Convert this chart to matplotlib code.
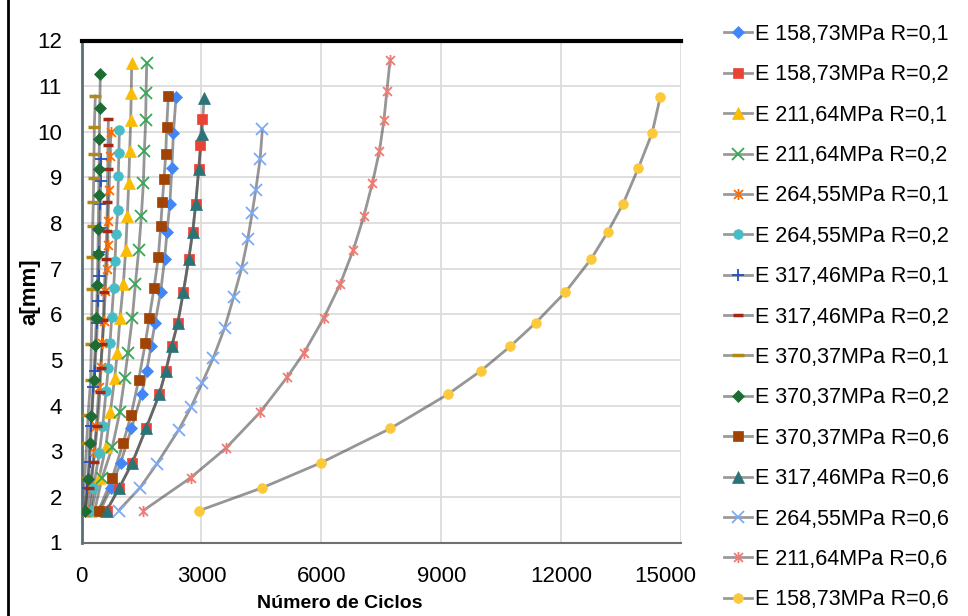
import matplotlib
matplotlib.use("Agg")
import matplotlib.pyplot as plt
import matplotlib.transforms as mtransforms
from matplotlib.lines import Line2D
from matplotlib.path import Path

plt.rcParams["font.family"] = ["Liberation Sans", "DejaVu Sans"]

# crescimento da trinca: ciclos x tamanho a[mm]
labels = [
    "E 158,73MPa R=0,1", "E 158,73MPa R=0,2", "E 211,64MPa R=0,1",
    "E 211,64MPa R=0,2", "E 264,55MPa R=0,1", "E 264,55MPa R=0,2",
    "E 317,46MPa R=0,1", "E 317,46MPa R=0,2", "E 370,37MPa R=0,1",
    "E 370,37MPa R=0,2", "E 370,37MPa R=0,6", "E 317,46MPa R=0,6",
    "E 264,55MPa R=0,6", "E 211,64MPa R=0,6", "E 158,73MPa R=0,6",
]

n1 = [470, 740, 980, 1250, 1505, 1630, 1740, 1840, 1980, 2080, 2140, 2210, 2260, 2300, 2365]
a1 = [1.7, 2.2, 2.75, 3.5, 4.25, 4.76, 5.3, 5.81, 6.49, 7.21, 7.81, 8.42, 9.2, 9.98, 10.76]
n2 = [630, 946, 1272, 1615, 1948, 2108, 2258, 2408, 2549, 2683, 2783, 2858, 2933, 2974, 3008]
a2 = [1.7, 2.2, 2.75, 3.5, 4.25, 4.76, 5.3, 5.81, 6.49, 7.21, 7.81, 8.42, 9.18, 9.72, 10.27]
n3 = [250, 438, 606, 721, 831, 896, 964, 1046, 1106, 1147, 1181, 1206, 1231, 1245, 1256]
a3 = [1.7, 2.41, 3.09, 3.85, 4.61, 5.16, 5.92, 6.66, 7.41, 8.16, 8.87, 9.58, 10.26, 10.86, 11.5]
n4 = [330, 513, 771, 956, 1081, 1164, 1272, 1348, 1432, 1498, 1548, 1573, 1606, 1615, 1632]
a4 = [1.7, 2.41, 3.09, 3.85, 4.61, 5.16, 5.92, 6.66, 7.41, 8.16, 8.87, 9.58, 10.26, 10.86, 11.5]
n5 = [170, 250, 313, 371, 438, 481, 521, 560, 595, 631, 656, 663, 689, 722, 730]
a5 = [1.7, 2.2, 2.98, 3.55, 4.41, 4.85, 5.37, 5.85, 6.5, 7.0, 7.52, 8.05, 8.72, 9.46, 9.99]
n6 = [230, 296, 446, 531, 614, 671, 714, 756, 806, 839, 864, 906, 921, 935, 947]
a6 = [1.7, 2.19, 2.96, 3.55, 4.31, 4.83, 5.38, 5.95, 6.58, 7.16, 7.75, 8.28, 9.02, 9.53, 10.04]
n7 = [80, 145, 205, 245, 300, 330, 370, 400, 413, 430, 450, 462, 472, 478, 482]
a7 = [1.7, 2.19, 2.76, 3.55, 4.41, 4.75, 5.3, 5.82, 6.3, 6.83, 7.37, 7.9, 8.41, 8.92, 9.41]
n8 = [95, 188, 305, 396, 464, 481, 521, 546, 563, 614, 631, 646, 656, 664, 672]
a8 = [1.7, 2.19, 2.77, 3.55, 4.3, 4.82, 5.34, 5.87, 6.49, 7.21, 7.83, 8.46, 9.18, 9.72, 10.28]
n9 = [40, 80, 130, 165, 230, 246, 255, 263, 271, 280, 296, 305, 313, 321, 346]
a9 = [1.7, 2.42, 3.18, 3.8, 4.57, 5.35, 5.91, 6.56, 7.26, 7.94, 8.47, 8.98, 9.51, 10.11, 10.79]
n10 = [96, 163, 205, 245, 305, 346, 371, 396, 410, 422, 430, 440, 447, 455, 472]
a10 = [1.7, 2.39, 3.18, 3.77, 4.55, 5.33, 5.92, 6.64, 7.32, 7.87, 8.61, 9.18, 9.85, 10.51, 11.26]
n11 = [430, 771, 1046, 1239, 1432, 1597, 1698, 1815, 1923, 1982, 2023, 2065, 2108, 2132, 2173]
a11 = [1.7, 2.42, 3.19, 3.79, 4.57, 5.37, 5.93, 6.58, 7.26, 7.94, 8.47, 8.97, 9.52, 10.11, 10.79]
n12 = [630, 946, 1272, 1615, 1948, 2108, 2258, 2408, 2549, 2683, 2783, 2858, 2933, 3016, 3066]
a12 = [1.7, 2.2, 2.75, 3.5, 4.25, 4.76, 5.3, 5.81, 6.49, 7.21, 7.81, 8.42, 9.18, 9.96, 10.75]
n13 = [930, 1464, 1882, 2433, 2749, 3016, 3300, 3580, 3810, 4010, 4160, 4268, 4360, 4468, 4526]
a13 = [1.7, 2.2, 2.72, 3.47, 3.98, 4.49, 5.05, 5.7, 6.39, 7.02, 7.65, 8.21, 8.72, 9.4, 10.05]
n14 = [1547, 2733, 3617, 4475, 5152, 5562, 6063, 6471, 6804, 7064, 7280, 7455, 7568, 7640, 7722]
a14 = [1.7, 2.42, 3.07, 3.86, 4.63, 5.15, 5.92, 6.66, 7.42, 8.15, 8.88, 9.58, 10.26, 10.89, 11.58]
n15 = [2950, 4525, 6000, 7730, 9170, 9990, 10730, 11360, 12110, 12750, 13170, 13550, 13930, 14280, 14480]
a15 = [1.7, 2.2, 2.75, 3.5, 4.25, 4.76, 5.3, 5.81, 6.49, 7.21, 7.81, 8.42, 9.2, 9.98, 10.76]

ciclos = [n1, n2, n3, n4, n5, n6, n7, n8, n9, n10, n11, n12, n13, n14, n15]
trinca = [a1, a2, a3, a4, a5, a6, a7, a8, a9, a10, a11, a12, a13, a14, a15]

# asterisco estilo Excel: um x com traço vertical
AST = Path([(-1, -1), (1, 1), (-1, 1), (1, -1), (0, -1.25), (0, 1.25)],
           [Path.MOVETO, Path.LINETO, Path.MOVETO, Path.LINETO, Path.MOVETO, Path.LINETO])

# (cor, marcador, tamanho, preenchido)
estilos = [
    ("#4285f4", "D", 6, True),
    ("#ea4335", "s", 7, True),
    ("#fbbc04", "^", 8, True),
    ("#34a853", "x", 8, False),
    ("#ff6d01", AST, 8, False),
    ("#46bdc6", "o", 7, True),
    ("#2450c0", "+", 9, False),
    ("#a52714", "_", 7, False),
    ("#b08a14", "_", 9, False),
    ("#1e6b35", "D", 6, True),
    ("#a04304", "s", 7, True),
    ("#2a7478", "^", 8, True),
    ("#7baaf7", "x", 8, False),
    ("#f07b72", AST, 8, False),
    ("#fcc93a", "o", 7, True),
]

fig = plt.figure(figsize=(9.68, 6.16), dpi=100)
ax = fig.add_axes([81.5 / 968, 73.5 / 616, 599.5 / 968, 502 / 616])

for n, a, lab, (cor, mk, ms, cheio) in zip(ciclos, trinca, labels, estilos):
    kw = dict(marker=mk, ms=ms, mec=cor, mew=1.3 if not cheio else 0.5)
    kw["mfc"] = cor if cheio else "none"
    if mk == "_":
        kw["mew"] = 2.5
    ax.plot(n, a, "-", color="#404040", alpha=0.55, lw=2.0, solid_capstyle="round", zorder=2)
    ax.plot(n, a, ls="none", zorder=3, **kw)
    ax.plot([], [], "-", color="#9a9a9a", lw=2.0, label=lab, **kw)

ax.set_xlim(0, 15000)
ax.set_ylim(1, 12)
ax.set_xticks(range(0, 15001, 3000))
ax.set_yticks(range(1, 13))
ax.grid(True, color="#dcdcdc", lw=1.3)
ax.set_axisbelow(True)
ax.tick_params(length=0, labelsize=16)
ax.tick_params(axis="y", pad=14)
ax.tick_params(axis="x", pad=17)

# último rótulo do eixo x recuado para dentro da área do gráfico
ultimo = ax.get_xticklabels()[-1]
ultimo.set_transform(ultimo.get_transform() +
                     mtransforms.ScaledTranslation(-16 / 100, 0, fig.dpi_scale_trans))

ax.spines["top"].set_color("black")
ax.spines["top"].set_linewidth(3)
ax.spines["left"].set_color("#56707a")
ax.spines["left"].set_linewidth(2)
ax.spines["bottom"].set_color("#707070")
ax.spines["bottom"].set_linewidth(1.5)
ax.spines["right"].set_visible(False)

ax.set_xlabel("Número de Ciclos", fontsize=14, fontweight="bold")
ax.xaxis.set_label_coords(0.431, -0.104)
ax.set_ylabel("a[mm]", fontsize=16, fontweight="bold")
ax.yaxis.set_label_coords(-0.069, 0.5)

fig.legend(loc="upper left", bbox_to_anchor=(724 / 968, 1 - 24 / 616),
           frameon=False, fontsize=15.5, labelspacing=0.9, handlelength=1.3,
           handletextpad=0.15, borderpad=0, borderaxespad=0)

# borda externa à esquerda
fig.add_artist(Line2D([8 / 968, 8 / 968], [0, 1], transform=fig.transFigure,
                      color="black", lw=2))

fig.savefig("out.png", dpi=100)
